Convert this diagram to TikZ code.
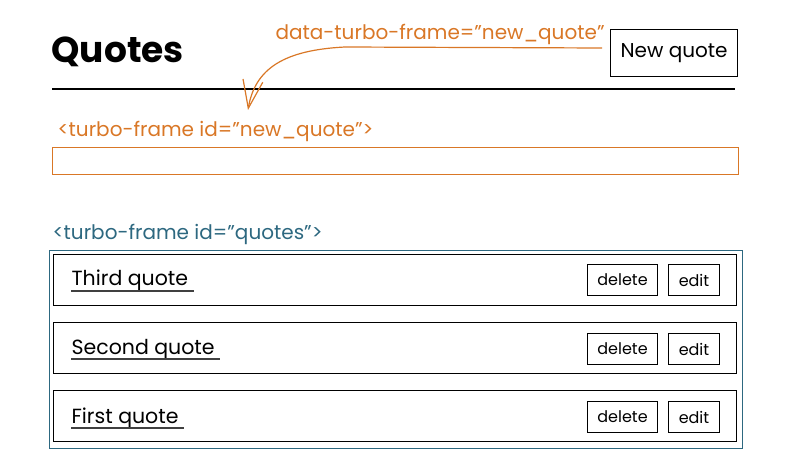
\documentclass[tikz,border=0pt]{standalone}
\usepackage{fontspec}
\setmainfont{Poppins}
\usetikzlibrary{arrows.meta}
\definecolor{orng}{RGB}{217,119,38}
\definecolor{tealc}{RGB}{45,104,128}
\newcommand{\fsz}[1]{\fontsize{#1}{#1}\selectfont}
\begin{document}
\begin{tikzpicture}[x=1pt,y=-1pt,line width=1.2pt,
  txt/.style={inner sep=0pt,anchor=base west},
  boxed/.style={draw,inner sep=0pt,anchor=north west},
  codelbl/.style={txt,font=\fsz{20}},
  itemtxt/.style={txt,font=\fsz{20.5}},
  smallbtn/.style={boxed,font=\fsz{16},line width=1pt},
  uline/.style={line width=1.6pt,black!75}]
\useasboundingbox (0,0) rectangle (790,473);

% title and rule
\node[txt,font=\fsz{36}\bfseries] (title) at (51,63) {Quotes};
\draw[line width=1.4pt] (52,89) -- (735,89);

% new quote button
\node[boxed,minimum width=127pt,minimum height=47pt,font=\fsz{20}] (newbtn) at (610,29) {New quote};

% annotation
\node[codelbl,orng] (annot) at (275,40) {data-turbo-frame="new\_quote"};
\coordinate (astart) at (602,48);
\coordinate (atip) at (248,110);
\draw[orng,line width=1.2pt,-{Straight Barb[length=28pt,width=20pt,line width=1.2pt]}]
  (astart) -- (345,47) .. controls (285,50) and (255,68) .. (atip);

% new_quote frame
\node[codelbl,orng] (nqlbl) at (57,137) {<turbo-frame id="new\_quote">};
\node[boxed,orng,minimum width=686pt,minimum height=27pt] (nqframe) at (52,147) {};

% quotes frame
\node[codelbl,tealc] (qlbl) at (52,240) {<turbo-frame id="quotes">};
\node[boxed,tealc,minimum width=693pt,minimum height=198pt] (qframe) at (49,250) {};

% rows
\node[boxed,minimum width=683pt,minimum height=51pt] (row3) at (53,254) {};
\node[boxed,minimum width=683pt,minimum height=51pt] (row2) at (53,322) {};
\node[boxed,minimum width=683pt,minimum height=51pt] (row1) at (53,390) {};

\node[itemtxt] (t3) at (71,286) {Third quote};
\draw[uline] ([yshift=-5pt]t3.base west) -- ([xshift=5pt,yshift=-5pt]t3.base east);
\node[itemtxt] (t2) at (71,354) {Second quote};
\draw[uline] ([yshift=-5pt]t2.base west) -- ([xshift=5pt,yshift=-5pt]t2.base east);
\node[itemtxt] (t1) at (71,423) {First quote};
\draw[uline] ([yshift=-5pt]t1.base west) -- ([xshift=5pt,yshift=-5pt]t1.base east);

\node[smallbtn,minimum width=70pt,minimum height=31pt] (del3) at (587,264) {delete};
\node[smallbtn,minimum width=51pt,minimum height=31pt] (ed3) at (668,264) {edit};
\node[smallbtn,minimum width=70pt,minimum height=31pt] (del2) at (587,333) {delete};
\node[smallbtn,minimum width=51pt,minimum height=31pt] (ed2) at (668,333) {edit};
\node[smallbtn,minimum width=70pt,minimum height=31pt] (del1) at (587,401) {delete};
\node[smallbtn,minimum width=51pt,minimum height=31pt] (ed1) at (668,401) {edit};
\end{tikzpicture}
\end{document}
